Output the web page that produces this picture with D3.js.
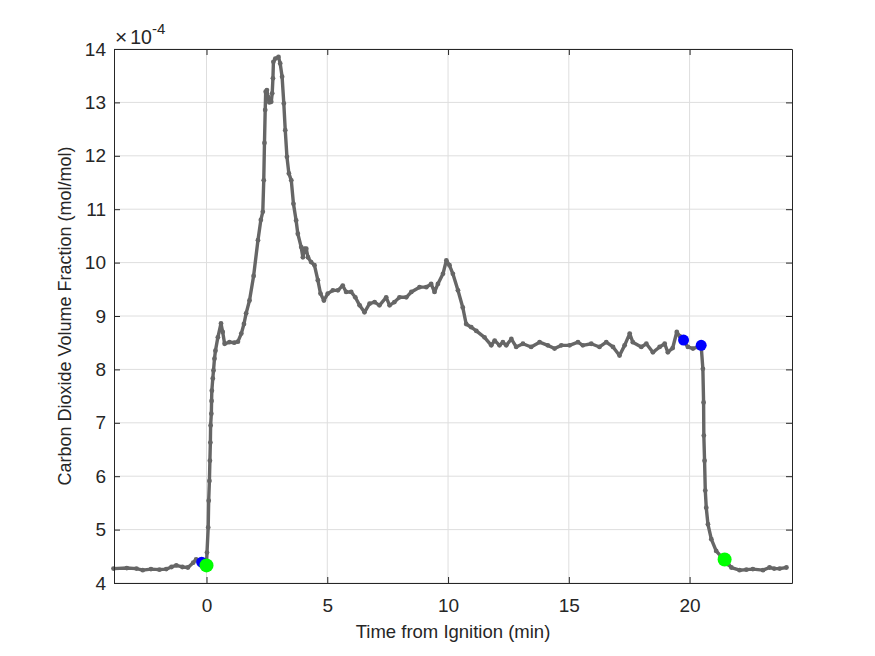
<!DOCTYPE html>
<html lang="en">
<head>
  <meta charset="UTF-8">
  <title>Carbon Dioxide Volume Fraction</title>
  <style>
    body { margin: 0; background: #fff; }
    svg text { font-family: "Liberation Sans", Arial, sans-serif; fill: #262626; }
  </style>
  <script src="https://d3js.org/d3.v7.min.js"></script>
</head>
<body>
  <div id="chart"></div>
  <script>
    // time from ignition (min)
    const timeMin = [
      -3.85, -3.3, -2.9, -2.64, -2.3, -1.95, -1.67, -1.45, -1.25, -1.0, -0.77, -0.55, -0.43, -0.3, -0.2, -0.05, 0.0,
      0.02, 0.07, 0.09, 0.12, 0.14, 0.16, 0.17, 0.20, 0.21, 0.22, 0.26, 0.29, 0.33, 0.37, 0.47, 0.6, 0.67, 0.75,
      0.95, 1.15, 1.3, 1.44, 1.55, 1.64, 1.78, 1.95, 2.13, 2.25, 2.33, 2.37, 2.4, 2.43, 2.45, 2.5, 2.55, 2.6,
      2.68, 2.72, 2.75, 2.77, 2.85, 2.98, 3.05, 3.13, 3.2, 3.26, 3.33, 3.41, 3.51, 3.6, 3.71, 3.78, 3.92, 3.99,
      4.06, 4.13, 4.2, 4.33, 4.47, 4.61, 4.72, 4.86, 5.02, 5.23, 5.44, 5.64, 5.78, 5.99, 6.16, 6.34, 6.54, 6.75,
      6.96, 7.16, 7.44, 7.58, 7.78, 7.99, 8.27, 8.48, 8.82, 9.1, 9.3, 9.44, 9.58, 9.79, 9.93, 10.06, 10.2, 10.41,
      10.61, 10.75, 10.96, 11.17, 11.51, 11.79, 11.93, 12.13, 12.27, 12.41, 12.62, 12.82, 13.1, 13.44, 13.79,
      14.13, 14.41, 14.69, 15.03, 15.38, 15.58, 15.93, 16.27, 16.55, 16.83, 17.1, 17.31, 17.52, 17.65, 18.0,
      18.21, 18.48, 18.76, 18.97, 19.1, 19.3, 19.47, 19.6, 19.75, 19.93, 20.14, 20.35, 20.48, 20.55, 20.58,
      20.59, 20.62, 20.65, 20.69, 20.76, 20.9, 21.1, 21.3, 21.45, 21.6, 21.73, 22.07, 22.35, 22.62, 23.04,
      23.31, 23.5, 23.73, 24.01
    ];
    // CO2 volume fraction, in units of 1e-4 mol/mol
    const co2 = [
      4.27, 4.28, 4.27, 4.24, 4.26, 4.25, 4.26, 4.30, 4.33, 4.30, 4.29, 4.38, 4.44, 4.42, 4.38, 4.35, 4.36,
      4.57, 5.04, 5.54, 5.91, 6.29, 6.63, 6.95, 7.17, 7.41, 7.6, 7.83, 7.98, 8.2, 8.35, 8.6, 8.86, 8.7, 8.48,
      8.51, 8.5, 8.52, 8.67, 8.85, 9.05, 9.29, 9.75, 10.42, 10.8, 10.95, 11.54, 12.24, 12.86, 13.2, 13.23, 13.1, 13.0,
      13.01, 13.17, 13.45, 13.76, 13.82, 13.85, 13.73, 13.48, 12.98, 12.48, 11.98, 11.67, 11.54, 11.1, 10.79, 10.54, 10.29, 10.1,
      10.26, 10.26, 10.1, 10.01, 9.95, 9.67, 9.42, 9.29, 9.42, 9.48, 9.48, 9.57, 9.45, 9.45, 9.35, 9.2, 9.07, 9.23,
      9.26, 9.2, 9.35, 9.2, 9.26, 9.35, 9.35, 9.45, 9.54, 9.54, 9.6, 9.45, 9.6, 9.79, 10.04, 9.95, 9.79, 9.48,
      9.16, 8.85, 8.79, 8.72, 8.6, 8.45, 8.54, 8.45, 8.51, 8.45, 8.57, 8.42, 8.48, 8.42, 8.51,
      8.45, 8.39, 8.45, 8.45, 8.51, 8.45, 8.48, 8.42, 8.51, 8.42, 8.26, 8.45, 8.67, 8.51, 8.42,
      8.48, 8.32, 8.42, 8.48, 8.32, 8.4, 8.7, 8.62, 8.53, 8.42, 8.39, 8.42, 8.44, 8.01, 7.38,
      6.76, 6.29, 5.73, 5.41, 5.1, 4.82, 4.6, 4.5, 4.44, 4.35, 4.29, 4.24, 4.25, 4.26, 4.24,
      4.29, 4.27, 4.27, 4.29
    ];
    // event markers
    const blueTime = [-0.2, 19.75, 20.48];
    const blueCo2 = [4.39, 8.55, 8.45];
    const greenTime = [0.0, 21.45];
    const greenCo2 = [4.33, 4.44];

    const xTicks = [0, 5, 10, 15, 20];
    const yTicks = [4, 5, 6, 7, 8, 9, 10, 11, 12, 13, 14];

    const width = 875, height = 656;
    const margin = {top: 49, right: 83, bottom: 73, left: 114};
    const w = width - margin.left - margin.right;
    const h = height - margin.top - margin.bottom;
    const axisColor = "#262626";

    const svg = d3.select("#chart").append("svg")
      .attr("width", width)
      .attr("height", height);

    const g = svg.append("g")
      .attr("transform", `translate(${margin.left},${margin.top})`);

    const x = d3.scaleLinear().domain([-3.83, 24.24]).range([0, w]);
    const y = d3.scaleLinear().domain([4, 14]).range([h, 0]);

    // grid
    g.append("g").selectAll("line")
      .data(xTicks)
      .join("line")
      .attr("x1", d => x(d)).attr("x2", d => x(d))
      .attr("y1", 0).attr("y2", h)
      .attr("stroke", "#dedede").attr("stroke-width", 1);
    g.append("g").selectAll("line")
      .data(yTicks)
      .join("line")
      .attr("x1", 0).attr("x2", w)
      .attr("y1", d => y(d)).attr("y2", d => y(d))
      .attr("stroke", "#dedede").attr("stroke-width", 1);

    const data = timeMin.map((t, i) => ({t: t, v: co2[i]}));

    const line = d3.line()
      .x(d => x(d.t))
      .y(d => y(d.v));

    g.append("path")
      .datum(data)
      .attr("fill", "none")
      .attr("stroke", "#666666")
      .attr("stroke-width", 3.4)
      .attr("stroke-linejoin", "round")
      .attr("d", line);

    g.append("g").selectAll("circle")
      .data(data)
      .join("circle")
      .attr("cx", d => x(d.t))
      .attr("cy", d => y(d.v))
      .attr("r", 2.4)
      .attr("fill", "#666666");

    g.append("g").selectAll("circle")
      .data(blueTime)
      .join("circle")
      .attr("cx", d => x(d))
      .attr("cy", (d, i) => y(blueCo2[i]))
      .attr("r", 5.5)
      .attr("fill", "#0000ff");

    g.append("g").selectAll("circle")
      .data(greenTime)
      .join("circle")
      .attr("cx", d => x(d))
      .attr("cy", (d, i) => y(greenCo2[i]))
      .attr("r", 7)
      .attr("fill", "#00ff00");

    // axes, ticks inside, box on
    const tickLen = 6;
    const xAxisB = d3.axisBottom(x).tickValues(xTicks).tickSizeInner(-tickLen).tickSizeOuter(0).tickPadding(16);
    const xAxisT = d3.axisTop(x).tickValues(xTicks).tickSizeInner(-tickLen).tickSizeOuter(0).tickFormat("");
    const yAxisL = d3.axisLeft(y).tickValues(yTicks).tickSizeInner(-tickLen).tickSizeOuter(0).tickPadding(8);
    const yAxisR = d3.axisRight(y).tickValues(yTicks).tickSizeInner(-tickLen).tickSizeOuter(0).tickFormat("");

    function styleAxis(sel) {
      sel.select(".domain").attr("stroke", axisColor);
      sel.selectAll(".tick line").attr("stroke", axisColor);
      sel.selectAll(".tick text")
        .attr("font-size", "19px")
        .attr("font-family", "'Liberation Sans', Arial, sans-serif")
        .attr("fill", axisColor);
    }

    g.append("g").attr("transform", `translate(0,${h})`).call(xAxisB).call(styleAxis);
    g.append("g").call(xAxisT).call(styleAxis);
    g.append("g").call(yAxisL).call(styleAxis);
    g.append("g").attr("transform", `translate(${w},0)`).call(yAxisR).call(styleAxis);

    // exponent label
    const expo = g.append("text")
      .attr("x", 1)
      .attr("y", -5)
      .attr("font-size", "19.5px");
    expo.append("tspan").attr("font-size", "21px").text("\u00d7");
    expo.append("tspan").attr("dx", 3).text("10");
    expo.append("tspan").attr("dy", -10).attr("font-size", "15px").text("-4");

    // axis labels
    svg.append("text")
      .attr("x", margin.left + w / 2)
      .attr("y", 638)
      .attr("text-anchor", "middle")
      .attr("font-size", "18.5px")
      .text("Time from Ignition (min)");

    svg.append("text")
      .attr("transform", `translate(71,${margin.top + h / 2}) rotate(-90)`)
      .attr("text-anchor", "middle")
      .attr("font-size", "18px")
      .text("Carbon Dioxide Volume Fraction (mol/mol)");
  </script>
</body>
</html>
